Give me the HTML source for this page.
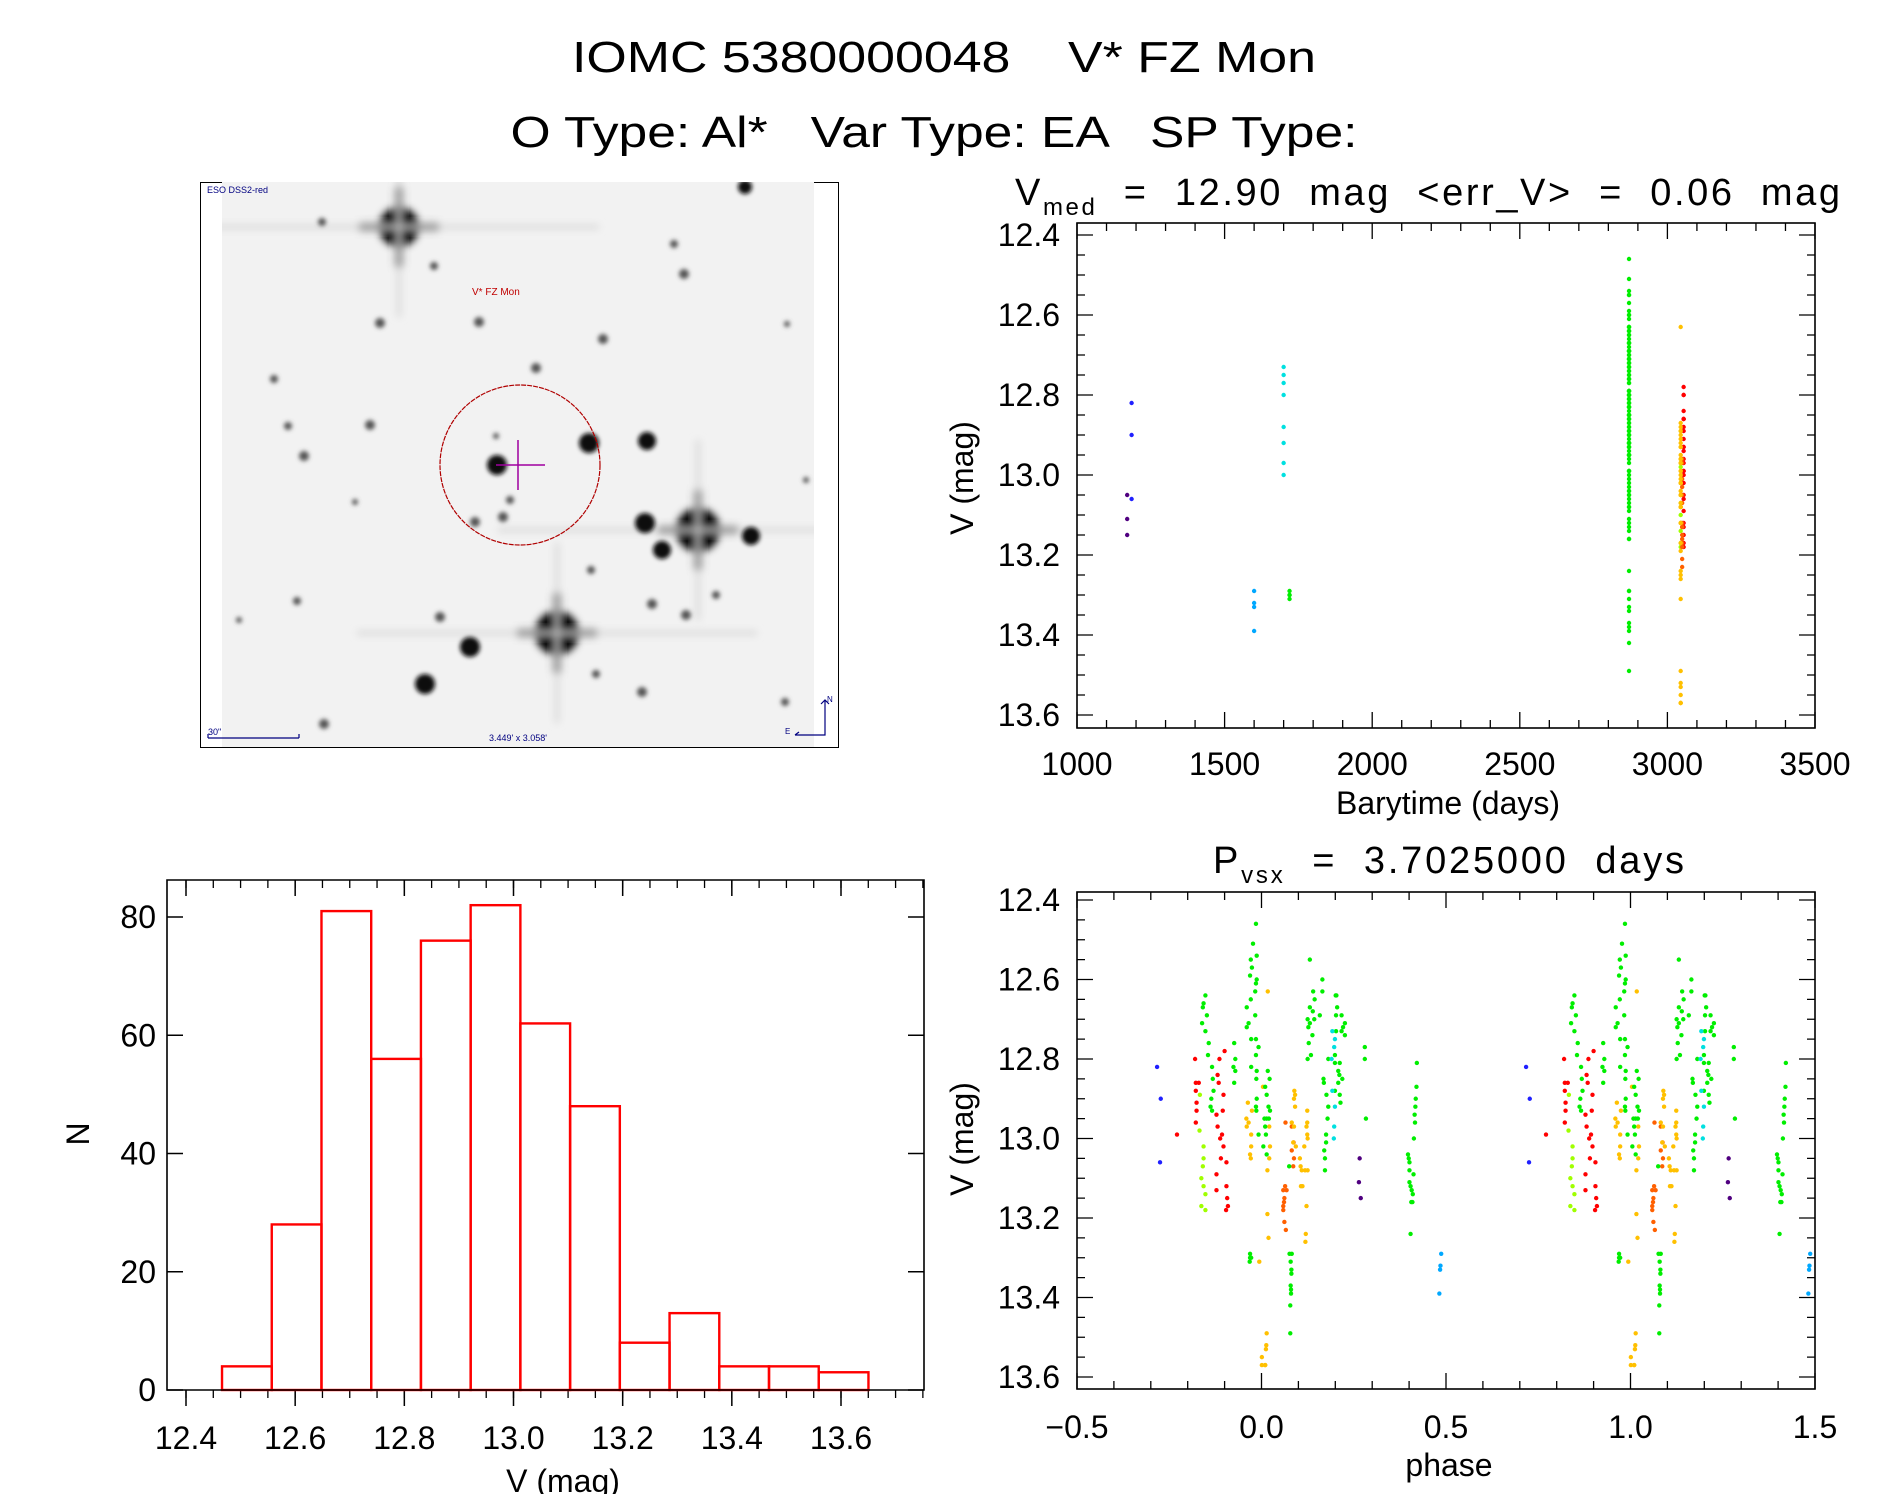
<!DOCTYPE html>
<html><head><meta charset="utf-8"><style>
html,body{margin:0;padding:0;background:#fff;}
svg{display:block;font-family:"Liberation Sans",sans-serif;}
text{white-space:pre;}
</style></head><body>
<svg id="fig" width="1889" height="1494" viewBox="0 0 1889 1494" xmlns="http://www.w3.org/2000/svg" xml:space="preserve">
<defs>
<filter id="blur2"><feGaussianBlur stdDeviation="2"/></filter>
<filter id="blur4"><feGaussianBlur stdDeviation="4"/></filter>
<clipPath id="imgclip"><rect x="222" y="182" width="592" height="565"/></clipPath>
<clipPath id="lcclip"><rect x="1077" y="223" width="741" height="505"/></clipPath>
<clipPath id="phclip"><rect x="1077" y="892" width="741" height="497"/></clipPath>
</defs>
<text x="944" y="72" font-size="44" text-anchor="middle" textLength="744" lengthAdjust="spacingAndGlyphs">IOMC 5380000048    V* FZ Mon</text>
<text x="934" y="147" font-size="44" text-anchor="middle" textLength="847" lengthAdjust="spacingAndGlyphs">O Type: Al*   Var Type: EA   SP Type:</text>

<g id="img"></g>
<g id="lc"></g>
<g id="hist"></g>
<g id="ph"></g>
</svg>
<script>
// ---------- data ----------
const histEdges0 = 12.466;
const histBinWidth = 0.0911;
const histCounts = [4,28,81,56,76,82,62,48,8,13,4,4,3];
const histXTicks = [12.4,12.6,12.8,13.0,13.2,13.4,13.6];
const histXTickLabels = ["12.4","12.6","12.8","13.0","13.2","13.4","13.6"];
const histYTicks = [0,20,40,60,80];

const lcXTicks = [1000,1500,2000,2500,3000,3500];
const magTicks = [12.4,12.6,12.8,13.0,13.2,13.4,13.6];
const magTickLabels = ["12.4","12.6","12.8","13.0","13.2","13.4","13.6"];
const phaseTicks = [-0.5,0.0,0.5,1.0,1.5];
const phaseTickLabels = ["\u22120.5","0.0","0.5","1.0","1.5"];

// groups: colour, observation epoch (days), phases, magnitudes
const groupColors = ["#2020ff","#ff0000","#ff0000","#a0ff00","#00ee00","#00ee00","#ff0000","#00ee00","#00ee00","#00ee00","#ffc000","#ffc000","#00ee00","#ff6000","#ffc000","#00ee00","#00ee00","#00ee00","#00e0e0","#00ee00","#500080","#00ee00","#00a8ff"];
const groupTimes  = [1185,3055,3055,3045,2870,2870,3055,2870,2870,1720,3045,3045,2870,3050,3045,2870,2870,2870,1700,2870,1170,2870,1600];
const groupPhases = [
 [-0.283,-0.273,-0.275],
 [-0.229],
 [-0.18,-0.178,-0.170,-0.178,-0.176,-0.176,-0.178],
 [-0.167,-0.168,-0.157,-0.157,-0.159,-0.163,-0.157,-0.152,-0.163,-0.152],
 [-0.152,-0.157,-0.148,-0.161,-0.152,-0.143,-0.145,-0.159],
 [-0.134,-0.132,-0.130,-0.136,-0.138,-0.134],
 [-0.119,-0.116,-0.103,-0.105,-0.122,-0.119,-0.107,-0.112,-0.103,-0.110,-0.095,-0.122,-0.122,-0.095,-0.093,-0.091,-0.096,-0.100,-0.114],
 [-0.074,-0.071,-0.076,-0.071,-0.074],
 [-0.015,-0.023,-0.013,-0.029,-0.026,-0.031,-0.013,-0.015,-0.017,-0.029,-0.040,-0.017,-0.035,-0.040,-0.028,-0.015,-0.008,-0.015,-0.028,-0.013,-0.014,-0.013,-0.015,-0.014],
 [-0.031,-0.032,-0.031,-0.028],
 [-0.037,-0.041,-0.035,-0.040,-0.026,-0.028,-0.028,-0.031,-0.029],
 [0.017,0.004,0.021,0.023,0.021,0.016,0.016,0.019,-0.006,0.014,0.013,0.012,0.001,0.010,0.001,0.010],
 [0.017,0.022,0.010,0.014,0.019,0.014,0.023,0.008,0.010,0.012,-0.008,0.005,0.014,0.020],
 [0.065,0.082,0.087,0.082,0.088,0.086,0.064,0.059,0.068,0.062,0.061,0.059,0.059,0.062,0.066],
 [0.089,0.091,0.088,0.091,0.082,0.088,0.086,0.093,0.104,0.106,0.109,0.118,0.125,0.107,0.111,0.122,0.120,0.119,0.124,0.124,0.122,0.124,0.125,0.116],
 [0.075,0.076,0.082,0.079,0.081,0.081,0.079,0.080,0.080,0.078,0.078],
 [0.131,0.165,0.140,0.165,0.144,0.131,0.139,0.143,0.158,0.125,0.131,0.127,0.138,0.128,0.134,0.125,0.168,0.169,0.181,0.176,0.181,0.179,0.175,0.175,0.170,0.172,0.172],
 [0.203,0.205,0.202,0.217,0.226,0.221,0.217,0.226,0.202,0.199,0.212,0.199,0.208,0.211,0.219,0.208,0.199,0.212,0.214,0.201],
 [0.192,0.199,0.190,0.197,0.192,0.199,0.197,0.196],
 [0.280,0.280,0.283],
 [0.266,0.264,0.269],
 [0.421,0.420,0.418,0.417,0.415,0.416,0.413,0.397,0.399,0.401,0.401,0.412,0.401,0.404,0.407,0.410,0.406,0.409,0.404],
 [0.487,0.485,0.484,0.482]
];
const groupMags = [
 [12.82,12.90,13.06],
 [12.99],
 [12.80,12.86,12.86,12.88,12.91,12.93,12.96],
 [12.89,12.98,13.02,13.05,13.07,13.10,13.12,13.14,13.17,13.18],
 [12.64,12.66,12.69,12.71,12.73,12.76,12.79,12.67],
 [12.82,12.85,12.88,12.90,12.92,12.93],
 [12.84,12.86,12.89,12.93,12.94,12.97,12.99,13.00,13.02,13.05,13.06,13.09,13.13,13.12,13.15,13.17,13.18,12.78,12.80],
 [12.76,12.80,12.82,12.83,12.86],
 [12.46,12.51,12.54,12.55,12.57,12.59,12.60,12.61,12.63,12.65,12.67,12.69,12.71,12.72,12.75,12.75,12.77,12.79,12.82,12.83,12.85,12.90,12.92,12.93],
 [13.30,13.31,13.29,13.30],
 [12.91,12.95,12.96,12.97,12.93,12.99,13.02,13.04,13.05],
 [12.63,12.87,12.97,13.02,13.05,13.08,13.19,13.25,13.31,13.49,13.52,13.53,13.55,13.57,13.57,13.57],
 [12.83,12.85,12.87,12.89,12.92,12.95,12.93,12.95,12.97,12.99,12.99,13.02,13.04,12.95],
 [12.96,12.97,13.01,13.03,13.05,13.07,13.12,13.13,13.13,13.15,13.16,13.17,13.18,13.21,13.23],
 [12.88,12.89,12.90,12.92,12.96,12.97,13.01,13.02,13.05,13.07,13.08,13.08,13.08,13.12,13.12,13.17,13.24,13.26,12.93,12.96,12.97,12.99,13.00,13.02],
 [13.07,13.29,13.29,13.31,13.33,13.34,13.37,13.38,13.39,13.42,13.49],
 [12.55,12.60,12.63,12.63,12.65,12.67,12.68,12.70,12.69,12.70,12.71,12.72,12.74,12.76,12.79,12.80,12.85,12.86,12.80,12.89,12.92,12.95,12.99,13.01,13.03,13.05,13.08],
 [12.64,12.67,12.69,12.69,12.71,12.72,12.73,12.74,12.73,12.79,12.81,12.81,12.83,12.84,12.85,12.86,12.88,12.89,12.91,12.64],
 [12.73,12.75,12.80,12.77,12.88,12.92,12.97,13.00],
 [12.77,12.80,12.95],
 [13.05,13.11,13.15],
 [12.81,12.87,12.90,12.92,12.94,12.96,13.00,13.04,13.05,13.06,13.08,13.09,13.11,13.12,13.13,13.14,13.16,13.16,13.24],
 [13.29,13.32,13.33,13.39]
];

const NS='http://www.w3.org/2000/svg';
function mk(parent,tag,attrs,txt){const e=document.createElementNS(NS,tag);for(const k in attrs)e.setAttribute(k,attrs[k]);if(txt!==undefined)e.textContent=txt;parent.appendChild(e);return e;}

// ---------- sky image ----------
(function(){
 const g=document.getElementById('img');
 const frame=mk(g,'rect',{x:200.5,y:182.5,width:638,height:565,fill:'none',stroke:'#000','stroke-width':1});
 
 
 const cg=mk(g,'g',{'clip-path':'url(#imgclip)'});
 mk(cg,'rect',{x:222,y:182,width:592,height:565,fill:'#f2f2f2'});
 const big=[[399,227,20],[698,530,22],[557,633,22]];
 const med=[[497,465,10],[589,443,10],[647,441,9],[645,523,10],[662,550,9],[751,536,9],[470,647,10],[425,684,10],[745,187,7]];
 const small=[[322,222,4],[434,266,4],[479,322,5],[603,339,5],[684,274,5],[380,323,5],[274,379,4],[288,426,4],[536,368,5],[370,425,5],[304,456,5],[496,436,3],[510,500,4],[503,517,5],[475,522,5],[591,570,4],[652,604,5],[716,595,4],[686,615,5],[297,601,4],[440,617,5],[596,674,4],[642,692,5],[324,724,5],[785,702,4],[787,324,3],[674,244,4],[239,620,3],[355,502,3],[806,480,3]];
 const sg=mk(cg,'g',{filter:'url(#blur4)'});
 for(const s of big){
  mk(sg,'circle',{cx:s[0],cy:s[1],r:s[2],fill:'#000'});
  mk(sg,'path',{d:`M${s[0]-40} ${s[1]}L${s[0]+40} ${s[1]}M${s[0]} ${s[1]-40}L${s[0]} ${s[1]+40}`,stroke:'#111','stroke-width':7});
  mk(sg,'path',{d:`M${s[0]-200} ${s[1]}L${s[0]+200} ${s[1]}M${s[0]} ${s[1]-90}L${s[0]} ${s[1]+90}`,stroke:'#ccc','stroke-width':3});
 }
 const mg=mk(cg,'g',{filter:'url(#blur2)'});
 for(const s of med) mk(mg,'circle',{cx:s[0],cy:s[1],r:s[2],fill:'#111'});
 for(const s of small) mk(mg,'circle',{cx:s[0],cy:s[1],r:s[2],fill:'#555'});
 const circ=mk(cg,'circle',{cx:520,cy:465,r:80,fill:'none',stroke:'#b00000','stroke-width':1.2,'stroke-dasharray':'5 1'});
 
 
 mk(cg,'path',{d:'M518 440V490M496 465H545',stroke:'#a000a0','stroke-width':1.5});
 const lbl=mk(cg,'text',{x:472,y:295,'font-size':10,fill:'#c00000'},'V* FZ Mon');
 
 
 const src=mk(g,'text',{x:207,y:193,'font-size':9,fill:'#000080'},'ESO DSS2-red');
 
 
 mk(g,'path',{d:'M208 738H299M208 734V738M299 734V738',stroke:'#000080','stroke-width':1.2,fill:'none'});
 const sc=mk(g,'text',{x:208,y:735,'font-size':9,fill:'#000080'},'30"');
 
 
 const fv=mk(g,'text',{x:489,y:741,'font-size':9,fill:'#000080'},"3.449' x 3.058'");
 
 
 mk(g,'path',{d:'M795 735H825V700M821 704L825 700L829 704M795 735L799 732',stroke:'#000080','stroke-width':1.2,fill:'none'});
 mk(g,'text',{x:827,y:702,'font-size':8,fill:'#000080'},'N');
 mk(g,'text',{x:785,y:734,'font-size':8,fill:'#000080'},'E');
})();

function frameAxes(g,L,T,R,B){
 mk(g,'rect',{x:L,y:T,width:R-L,height:B-T,fill:'none',stroke:'#000','stroke-width':1.6});
}

// ---------- light curve ----------
(function(){
 const g=document.getElementById('lc');
 const L=1077,R=1815,T=223,B=728;
 const xs=t=>L+(t-1000)/2500*(R-L);
 const ys=m=>235+(m-12.4)/1.2*480;
 frameAxes(g,L,T,R,B);
 for(let t=1000;t<=3500;t+=100){const maj=(t%500===0);const x=xs(t);const len=maj?16:8;
  mk(g,'path',{d:`M${x} ${B}V${B-len}M${x} ${T}V${T+len}`,stroke:'#000','stroke-width':1.3});}
 for(let k=0;k<=24;k++){const m=12.4+k*0.05;const y=ys(m);const maj=(k%4===0);const len=maj?16:8;
  mk(g,'path',{d:`M${L} ${y}H${L+len}M${R} ${y}H${R-len}`,stroke:'#000','stroke-width':1.3});}
 lcXTicks.forEach(t=>{const e=mk(g,'text',{x:xs(t),y:775,'font-size':32,'text-anchor':'middle'},String(t));
  
  });
 magTicks.forEach((m,i)=>{const e=mk(g,'text',{x:1060,y:ys(m)+11,'font-size':32,'text-anchor':'end'},magTickLabels[i]);
  
  });
 const xl=mk(g,'text',{x:1448,y:814,'font-size':32,'text-anchor':'middle'},'Barytime (days)');
 
 
 const yl=mk(g,'text',{x:0,y:0,'font-size':32,'text-anchor':'middle',transform:'translate(973 478) rotate(-90)'},'V (mag)');
 
 
 const tt=mk(g,'text',{x:1015,y:205,'font-size':38,textLength:825,lengthAdjust:'spacing'});
 
 
 mk(tt,'tspan',{},'V');
 mk(tt,'tspan',{'font-size':24,dy:10},'med');
 mk(tt,'tspan',{dy:-10},'  =  12.90  mag  <err_V>  =  0.06  mag');
 const pg=mk(g,'g',{'clip-path':'url(#lcclip)'});
 groupMags.forEach((arr,gi)=>{arr.forEach(m=>{
  const c=mk(pg,'circle',{cx:xs(groupTimes[gi]),cy:ys(m),r:2.2,fill:groupColors[gi]});
  
  
 });});
})();

// ---------- histogram ----------
(function(){
 const g=document.getElementById('hist');
 const L=167,R=924,T=880,B=1390;
 const xh=v=>186+(v-12.4)/1.2*655;
 const yh=n=>1390-n/80*473;
 for(let k=0;k<=28;k++){const v=12.35+k*0.05;const x=xh(v);if(x<L||x>R)continue;
  mk(g,'path',{d:`M${x} ${B}V${B+8}M${x} ${T}V${T+8}`,stroke:'#000','stroke-width':1.3});}
 histXTicks.forEach(v=>{const x=xh(v);mk(g,'path',{d:`M${x} ${B}V${B+16}M${x} ${T}V${T+16}`,stroke:'#000','stroke-width':1.5});});
 histYTicks.forEach(n=>{const y=yh(n);mk(g,'path',{d:`M${L} ${y}H${L+16}M${R} ${y}H${R-16}`,stroke:'#000','stroke-width':1.5});
  const e=mk(g,'text',{x:156,y:y+11,'font-size':32,'text-anchor':'end'},String(n));
  
  });
 histXTicks.forEach((v,i)=>{const e=mk(g,'text',{x:xh(v),y:1449,'font-size':32,'text-anchor':'middle'},histXTickLabels[i]);
  
  });
 histCounts.forEach((n,i)=>{const x0=xh(histEdges0+i*histBinWidth),x1=xh(histEdges0+(i+1)*histBinWidth);
  const r=mk(g,'rect',{x:x0,y:yh(n),width:x1-x0,height:B-yh(n),fill:'none',stroke:'#ff0000','stroke-width':2.4});
  
  });
 mk(g,'path',{d:`M${L} ${T}H${R}V${B}H${L}Z`,fill:'none',stroke:'#000','stroke-width':1.6});
 const xl=mk(g,'text',{x:563,y:1492,'font-size':32,'text-anchor':'middle'},'V (mag)');
 
 
 const yl=mk(g,'text',{x:0,y:0,'font-size':32,'text-anchor':'middle',transform:'translate(89 1134) rotate(-90)'},'N');
 
 
})();

// ---------- phase plot ----------
(function(){
 const g=document.getElementById('ph');
 const L=1077,R=1815,T=892,B=1389;
 const xp=p=>L+(p+0.5)/2*(R-L);
 const yp=m=>900+(m-12.4)/1.2*477;
 frameAxes(g,L,T,R,B);
 for(let k=0;k<=20;k++){const x=xp(-0.5+k*0.1);const len=(k%5===0)?16:8;
  mk(g,'path',{d:`M${x} ${B}V${B-len}M${x} ${T}V${T+len}`,stroke:'#000','stroke-width':1.3});}
 for(let k=0;k<=24;k++){const y=yp(12.4+k*0.05);const len=(k%4===0)?16:8;
  mk(g,'path',{d:`M${L} ${y}H${L+len}M${R} ${y}H${R-len}`,stroke:'#000','stroke-width':1.3});}
 phaseTicks.forEach((p,i)=>{const e=mk(g,'text',{x:xp(p),y:1438,'font-size':32,'text-anchor':'middle'},phaseTickLabels[i]);
  
  });
 magTicks.forEach((m,i)=>{const e=mk(g,'text',{x:1060,y:yp(m)+11,'font-size':32,'text-anchor':'end'},magTickLabels[i]);
  
  });
 const xl=mk(g,'text',{x:1449,y:1476,'font-size':32,'text-anchor':'middle'},'phase');
 
 
 const yl=mk(g,'text',{x:0,y:0,'font-size':32,'text-anchor':'middle',transform:'translate(973 1139) rotate(-90)'},'V (mag)');
 
 
 const tt=mk(g,'text',{x:1213,y:873,'font-size':38,textLength:471,lengthAdjust:'spacing'});
 
 
 mk(tt,'tspan',{},'P');
 mk(tt,'tspan',{'font-size':24,dy:10},'vsx');
 mk(tt,'tspan',{dy:-10},'  =  3.7025000  days');
 const pg=mk(g,'g',{'clip-path':'url(#phclip)'});
 groupPhases.forEach((arr,gi)=>{arr.forEach((p,j)=>{
  [0,1].forEach(off=>{
   const c=mk(pg,'circle',{cx:xp(p+off),cy:yp(groupMags[gi][j]),r:2.2,fill:groupColors[gi]});
   
   
  });
 });});
})();
</script>
</body></html>
